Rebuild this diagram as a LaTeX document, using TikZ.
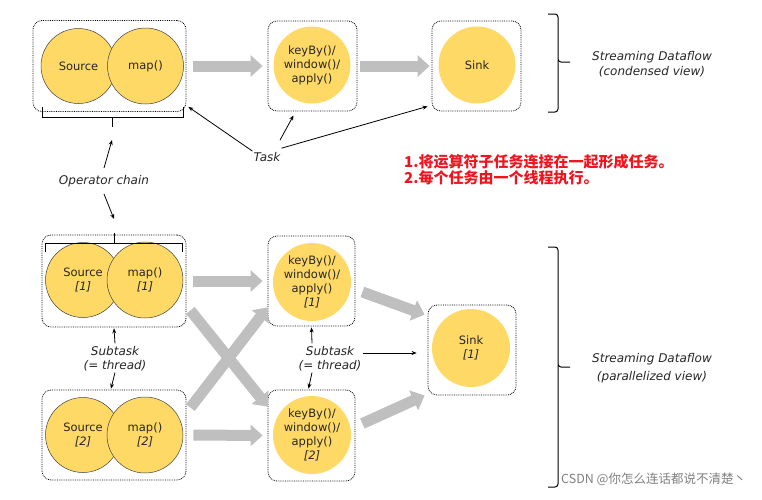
\documentclass[tikz,border=0pt]{standalone}
\usepackage{fontspec}
\setmainfont{DejaVu Sans}
\newfontfamily\cjk{Noto Sans CJK SC}
\usetikzlibrary{arrows.meta}

\definecolor{opfill}{HTML}{FFD966}
\definecolor{flowgray}{HTML}{BFBFBF}
\definecolor{notered}{HTML}{F0141E}

\newcommand\opfont{\fontsize{11.5}{14}\selectfont}
\newcommand\lblfont{\fontsize{12}{14}\selectfont\itshape}

\begin{document}
\begin{tikzpicture}[x=1pt, y=-1pt,
    taskbox/.style={draw, densely dotted, line width=0.8pt, rounded corners=9pt, inner sep=0pt},
    opcircle/.style={circle, fill=opfill, draw=black!75, line width=0.5pt, minimum size=75pt, inner sep=0pt, align=center, text=black!85, font=\opfont},
    fncircle/.style={circle, fill=opfill, minimum size=77pt, inner sep=0pt, align=center, text=black!85, font=\opfont},
    flow/.style={draw=flowgray, line width=11pt, -{Triangle[width=21pt,length=12pt]}},
    ptr/.style={-{Stealth[length=5pt,width=4pt]}, line width=0.8pt},
    lbl/.style={font=\lblfont, text=black!85, align=center, inner sep=1pt},
    bracket/.style={line width=1pt},
    ]
    \useasboundingbox (0,0) rectangle (762,499);

    %Tasks (condensed view)
    \node[taskbox, minimum width=153pt, minimum height=91pt] (chain) at (109.5,66) {};
    \node[taskbox, minimum width=89pt, minimum height=90pt]  (agg)   at (312.5,66) {};
    \node[taskbox, minimum width=89pt, minimum height=90pt]  (out)   at (476.5,66) {};

    \node[opcircle]                   (src)   at (78.5,66)  {Source};
    \node[opcircle, minimum size=76pt] (map)  at (145.5,66) {map()};
    \node[fncircle]                   (keyby) at (312,65)   {keyBy()/\\window()/\\apply()};
    \node[fncircle]                   (sink)  at (477,65)   {Sink};

    %Subtasks (parallelized view)
    \node[taskbox, minimum width=144pt, minimum height=92pt] (chainA) at (114,281)   {};
    \node[taskbox, minimum width=144pt, minimum height=90pt] (chainB) at (114,435)   {};
    \node[taskbox, minimum width=87pt, minimum height=90pt]  (aggA)   at (311.5,281) {};
    \node[taskbox, minimum width=87pt, minimum height=91pt]  (aggB)   at (311.5,435.5) {};
    \node[taskbox, minimum width=88pt, minimum height=90pt]  (outA)   at (472,350)   {};

    \node[opcircle]                    (srcA)    at (83,280)  {Source\\\textit{[1]}};
    \node[opcircle, minimum size=76pt] (mapA)    at (145,280) {map()\\\textit{[1]}};
    \node[opcircle]                    (srcB)    at (83,435)  {Source\\\textit{[2]}};
    \node[opcircle, minimum size=76pt] (mapB)    at (145,435) {map()\\\textit{[2]}};
    \node[fncircle, minimum size=78pt] (keybyA)  at (312,282) {keyBy()/\\window()/\\apply()\\\textit{[1]}};
    \node[fncircle, minimum size=78pt] (keybyB)  at (312,435) {keyBy()/\\window()/\\apply()\\\textit{[2]}};
    \node[fncircle, minimum size=78pt] (sinkA)   at (471,348) {Sink\\\textit{[1]}};

    %Labels
    \node[lbl] (task)    at (267,157) {Task};
    \node[lbl] (opchain) at (104,181) {Operator chain};
    \node[lbl] (subL)    at (115,359) {Subtask\\(= thread)};
    \node[lbl] (subM)    at (330,359) {Subtask\\(= thread)};
    \node[lbl, font=\fontsize{12}{15}\selectfont\itshape] (viewT) at (652,64.5) {Streaming Dataflow\\(condensed view)};
    \node[lbl, font=\fontsize{12}{18}\selectfont\itshape] (viewB) at (652,368) {Streaming Dataflow\\(parallelized view)};
    \node[anchor=west, align=left, text=notered, inner sep=0pt,
          font=\cjk\bfseries\fontsize{15}{15.5}\selectfont] (note) at (404,169.5)
          {1.将运算符子任务连接在一起形成任务。\\2.每个任务由一个线程执行。};
    \node[anchor=west, inner sep=0pt, text=black!50, font=\cjk\fontsize{12.5}{14}\selectfont]
          (mark) at (561,479) {CSDN @你怎么连话都说不清楚丶};

    %Brackets
    \draw[bracket] (42,107) -- (42,117) -- (183,117) -- (183,107);
    \draw[bracket] (112,117) -- (112,127) coordinate (tickT);
    \draw[bracket] (45,252) -- (45,243) -- (182,243) -- (182,252);
    \draw[bracket] (114,243) -- (114,233) coordinate (tickB);
    \draw[bracket, rounded corners=3pt] (548,14) -- (558,14) -- (558,62) -- (570,62);
    \draw[bracket, rounded corners=3pt] (558,60) -- (558,112) -- (548,112);
    \draw[bracket, rounded corners=3pt] (548,247) -- (558,247) -- (558,367) -- (570,367);
    \draw[bracket, rounded corners=3pt] (558,365) -- (558,487) -- (548,487);

    %Data flow
    \draw[flow] ([xshift=7pt]chain.east) -- ([xshift=-5pt]agg.west);
    \draw[flow] ([xshift=3pt]agg.east) -- ([xshift=-2pt]out.west);
    \draw[flow] ([xshift=7pt]chainA.east) -- ([xshift=-5pt]aggA.west);
    \draw[flow] ([xshift=7pt]chainB.east) -- ([xshift=-5pt]aggB.west);
    \draw[flow] ([shift={(4pt,17pt)}]chainA.south east) -- ([yshift=-17pt]aggB.north west);
    \draw[flow] ([shift={(4pt,-18pt)}]chainB.north east) -- ([yshift=19pt]aggA.south west);
    \draw[flow] ([shift={(7pt,-11pt)}]aggA.east) -- ([shift={(-3pt,-10pt)}]outA.north west);
    \draw[flow] ([shift={(7pt,12pt)}]aggB.east) -- ([xshift=-3pt]outA.south west);

    %Pointers
    \draw[ptr] (task.north west) -- ([shift={(2pt,5pt)}]chain.south east);
    \draw[ptr] ([shift={(13pt,11pt)}]task.north) -- ([shift={(-19pt,-4pt)}]agg.south);
    \draw[ptr] ([yshift=3pt]task.north east) -- ([shift={(-4pt,5pt)}]out.south west);
    \draw[ptr] ([yshift=6pt]opchain.north) -- ([yshift=-13pt]tickT);
    \draw[ptr] ([yshift=-6pt]opchain.south) -- ([yshift=14pt]tickB);
    \draw[ptr] ([yshift=2pt]subL.north) -- ([yshift=-1pt]chainA.south);
    \draw[ptr] (subL.south) -- ([shift={(-3pt,1pt)}]chainB.north);
    \draw[ptr] ([shift={(-18pt,2pt)}]subM.north) -- ([yshift=-1pt]aggA.south);
    \draw[ptr] ([xshift=-18pt]subM.south) -- ([shift={(-3pt,1pt)}]aggB.north);
    \draw[ptr] ([yshift=6pt]subM.east) -- ([shift={(-11pt,-3pt)}]outA.west);

\end{tikzpicture}
\end{document}
